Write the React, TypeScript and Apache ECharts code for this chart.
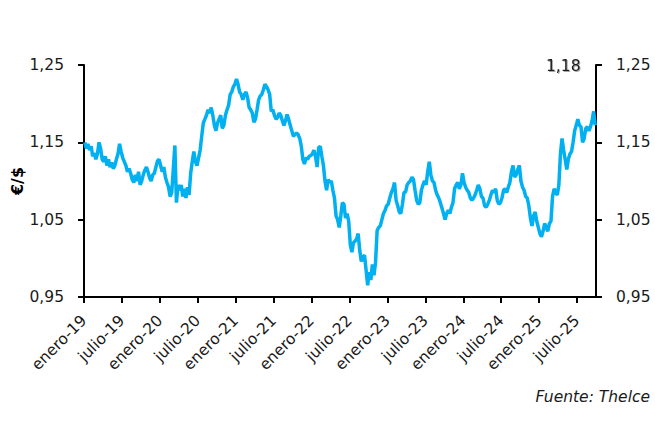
import React, { useEffect, useRef } from 'react';
import * as echarts from 'echarts';

// Weekly EUR/USD readings (4 per month)
const v2019 = [
  1.150, 1.142, 1.148, 1.140, 1.145, 1.132, 1.136, 1.128, 1.135, 1.150, 1.142, 1.128,
  1.125, 1.132, 1.120, 1.128, 1.118, 1.124, 1.116, 1.120, 1.128, 1.135, 1.148, 1.138,
  1.130, 1.125, 1.120, 1.112, 1.116, 1.110, 1.102, 1.098, 1.108, 1.100, 1.112, 1.095,
  1.100, 1.108, 1.114, 1.118, 1.112, 1.104, 1.100, 1.108, 1.110, 1.118, 1.126, 1.128,
];
const v2020 = [
  1.120, 1.112, 1.118, 1.105, 1.098, 1.092, 1.080, 1.085, 1.115, 1.146, 1.072, 1.095,
  1.088, 1.095, 1.080, 1.090, 1.078, 1.092, 1.082, 1.110, 1.125, 1.138, 1.125, 1.120,
  1.130, 1.140, 1.158, 1.175, 1.180, 1.185, 1.192, 1.188, 1.195, 1.185, 1.172, 1.165,
  1.175, 1.180, 1.185, 1.168, 1.172, 1.185, 1.192, 1.198, 1.212, 1.215, 1.222, 1.225,
];
const v2021 = [
  1.232, 1.225, 1.215, 1.212, 1.205, 1.212, 1.215, 1.208, 1.195, 1.192, 1.188, 1.176,
  1.180, 1.192, 1.205, 1.210, 1.212, 1.218, 1.225, 1.222, 1.218, 1.212, 1.190, 1.192,
  1.185, 1.180, 1.182, 1.188, 1.185, 1.178, 1.172, 1.178, 1.186, 1.180, 1.172, 1.165,
  1.158, 1.160, 1.162, 1.160, 1.155, 1.145, 1.128, 1.122, 1.130, 1.128, 1.132, 1.133,
];
const v2022 = [
  1.135, 1.140, 1.132, 1.118, 1.143, 1.145, 1.132, 1.120, 1.100, 1.088, 1.102, 1.098,
  1.100, 1.088, 1.078, 1.055, 1.050, 1.040, 1.055, 1.072, 1.070, 1.052, 1.058, 1.048,
  1.018, 1.008, 1.020, 1.022, 1.025, 1.032, 1.010, 0.996, 1.002, 1.004, 0.985, 0.965,
  0.982, 0.972, 0.992, 0.978, 0.995, 1.036, 1.040, 1.042, 1.050, 1.058, 1.062, 1.068,
];
const v2023 = [
  1.070, 1.078, 1.085, 1.090, 1.098, 1.075, 1.068, 1.060, 1.058, 1.070, 1.085, 1.086,
  1.095, 1.098, 1.100, 1.105, 1.102, 1.088, 1.075, 1.070, 1.072, 1.088, 1.095, 1.100,
  1.095, 1.112, 1.125, 1.108, 1.100, 1.098, 1.088, 1.082, 1.078, 1.072, 1.065, 1.058,
  1.050, 1.058, 1.062, 1.058, 1.066, 1.072, 1.090, 1.095, 1.098, 1.090, 1.095, 1.110,
];
const v2024 = [
  1.098, 1.092, 1.088, 1.085, 1.078, 1.075, 1.078, 1.082, 1.088, 1.095, 1.090, 1.080,
  1.078, 1.068, 1.066, 1.070, 1.075, 1.082, 1.088, 1.085, 1.090, 1.075, 1.070, 1.072,
  1.078, 1.088, 1.090, 1.085, 1.092, 1.098, 1.112, 1.120, 1.105, 1.108, 1.115, 1.120,
  1.100, 1.092, 1.088, 1.080, 1.078, 1.068, 1.052, 1.042, 1.055, 1.060, 1.048, 1.040,
];
const v2025 = [
  1.032, 1.028, 1.035, 1.045, 1.040, 1.035, 1.045, 1.048, 1.080, 1.090, 1.085, 1.082,
  1.095, 1.135, 1.155, 1.140, 1.128, 1.115, 1.128, 1.135, 1.138, 1.150, 1.165, 1.172,
  1.180, 1.172, 1.170, 1.150, 1.155, 1.168, 1.170, 1.165, 1.170, 1.178, 1.190, 1.172,
];
const yearSeries = [v2019, v2020, v2021, v2022, v2023, v2024, v2025];

const xTickMonths = [0, 6, 12, 18, 24, 30, 36, 42, 48, 54, 60, 66, 72, 78];
const xTickLabels = [
  'enero-19', 'julio-19', 'enero-20', 'julio-20', 'enero-21', 'julio-21', 'enero-22',
  'julio-22', 'enero-23', 'julio-23', 'enero-24', 'julio-24', 'enero-25', 'julio-25',
];
const yTicks = [0.95, 1.05, 1.15, 1.25];
const lastLabel = '1,18';
const sourceText = 'Fuente: Thelce';
const yName = '€/$';

const FONT = '"DejaVu Sans", Verdana, sans-serif';
const FS = 15.5;

function buildData(): [number, number][] {
  const out: [number, number][] = [];
  yearSeries.forEach((arr, yi) => {
    arr.forEach((v, i) => {
      const month = yi * 12 + Math.floor(i / 4);
      out.push([month + (i % 4) / 4 + 0.125, v]);
    });
  });
  return out;
}

const fmtY = (v: number) => v.toFixed(2).replace('.', ',');

export default function App() {
  const ref = useRef<HTMLDivElement>(null);
  useEffect(() => {
    document.body.style.margin = '0';
    if (!ref.current) return;
    const chart = echarts.init(ref.current, null, { renderer: 'svg' });
    const axisColor = '#000';
    const yAxisBase = (pos: 'left' | 'right') => ({
      type: 'value',
      position: pos,
      min: 0.95,
      max: 1.25,
      axisLine: { show: true, lineStyle: { color: axisColor, width: 2 } },
      axisTick: {
        show: true,
        customValues: yTicks,
        length: 6,
        inside: false,
        lineStyle: { color: axisColor, width: 2 },
      },
      axisLabel: {
        customValues: yTicks,
        formatter: (v: number) => fmtY(v),
        fontSize: FS,
        fontFamily: FONT,
        color: '#1a1a1a',
        margin: 20,
      },
      splitLine: { show: false },
    });
    chart.setOption({
      animation: false,
      backgroundColor: '#fff',
      grid: { left: 84, right: 59, top: 65, bottom: 128, containLabel: false, outerBoundsMode: 'none' },
      xAxis: {
        type: 'value',
        min: 0,
        max: 81,
        axisLine: { show: true, lineStyle: { color: axisColor, width: 2 } },
        axisTick: {
          show: true,
          customValues: xTickMonths,
          length: 6,
          lineStyle: { color: axisColor, width: 2 },
        },
        axisLabel: {
          customValues: xTickMonths,
          rotate: 45,
          formatter: (v: number) => {
            const idx = xTickMonths.indexOf(Math.round(v));
            return idx >= 0 ? xTickLabels[idx] : '';
          },
          fontSize: FS,
          fontFamily: FONT,
          color: '#1a1a1a',
          margin: 21,
        },
        splitLine: { show: false },
      },
      yAxis: [
        {
          ...yAxisBase('left'),
          name: yName,
          nameLocation: 'middle',
          nameGap: 59,
          nameRotate: 90,
          nameMoveOverlap: false,
          nameTextStyle: { fontSize: 16, fontWeight: 'bold', fontFamily: FONT, color: '#000' },
        },
        yAxisBase('right'),
      ],
      series: [
        {
          type: 'line',
          data: buildData(),
          showSymbol: false,
          symbol: 'none',
          lineStyle: { color: '#00B0F0', width: 3.5 },
          itemStyle: { color: '#00B0F0' },
        },
      ],
      graphic: [
        {
          type: 'text',
          left: 546,
          top: 58,
          style: {
            text: lastLabel,
            fontSize: FS,
            fontFamily: FONT,
            fill: '#1a1a1a',
            textShadowColor: 'rgba(0,0,0,0.35)',
            textShadowOffsetX: 1,
            textShadowOffsetY: 1,
            textShadowBlur: 1,
          },
        },
        {
          type: 'text',
          right: 5,
          top: 389,
          style: {
            text: sourceText,
            fontSize: FS,
            fontStyle: 'italic',
            fontFamily: FONT,
            fill: '#1a1a1a',
          },
        },
      ],
    });
    return () => chart.dispose();
  }, []);
  return <div ref={ref} style={{ width: 655, height: 425 }} />;
}
